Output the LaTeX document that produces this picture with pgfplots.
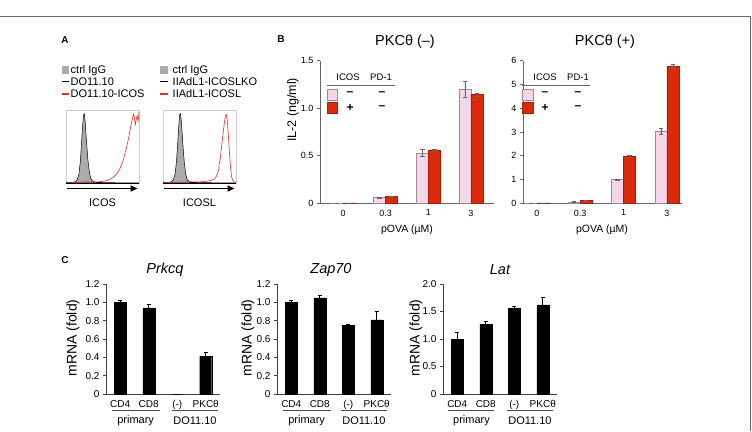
\documentclass[border=0pt]{standalone}
\usepackage{pgfplots}
\pgfplotsset{compat=1.18}
\usepackage{pgfplotstable}
\usepackage{fontspec}
\setmainfont{Liberation Sans}
\usetikzlibrary{arrows.meta}

\definecolor{pinkbar}{HTML}{F3D6EA}
\definecolor{pinkedge}{HTML}{9C8A9A}
\definecolor{redbar}{HTML}{DA2A0A}
\definecolor{rededge}{HTML}{A81E05}
\definecolor{axgray}{HTML}{666666}
\definecolor{histgray}{HTML}{ABABAB}
\definecolor{histred}{HTML}{E0302A}
\definecolor{boxgray}{HTML}{CCCCCC}

% IL-2 secretion, PKCtheta-negative cells
\pgfplotstableread{
x p pe r re
0 0.003 0 0.003 0
1 0.059 0.004 0.069 0.003
2 0.528 0.035 0.562 0.008
3 1.198 0.08 1.142 0.012
}\dataBl
% IL-2 secretion, PKCtheta-positive cells
\pgfplotstableread{
x p pe r re
0 0.01 0 0.01 0
1 0.05 0.01 0.11 0.01
2 0.99 0.02 1.98 0.05
3 3.04 0.12 5.77 0.07
}\dataBr
% relative mRNA
\pgfplotstableread{
x y e
0 1.00 0.02
1 0.94 0.035
2 0 0
3 0.41 0.04
}\dataPrkcq
\pgfplotstableread{
x y e
0 1.00 0.02
1 1.05 0.025
2 0.75 0.01
3 0.81 0.09
}\dataZap
\pgfplotstableread{
x y e
0 1.00 0.12
1 1.27 0.06
2 1.56 0.04
3 1.62 0.14
}\dataLat

\pgfplotsset{
  baseax/.style={
    scale only axis, anchor=south west,
    axis lines=left, axis line style={-, axgray, line width=0.7pt},
    tick align=outside, major tick length=3pt,
    ytick style={axgray, line width=0.6pt},
    xtick style={draw=none},
    tick label style={font=\fontsize{9}{10}\selectfont},
    ymin=0, clip=false,
  },
  bax/.style={baseax, width=#1, height=142.5pt, xtick={0,1,2,3}, xticklabels={0,0.3,1,3}},
  cax/.style={baseax, width=114pt, height=110pt, xmin=-0.5, xmax=3.5,
    xtick={0,1,2,3}, xticklabels={CD4,CD8,(-),PKCθ},
    tick label style={font=\fontsize{10}{11}\selectfont},
    axis line style={-, black!75, line width=0.7pt}, ytick style={black!75}},
  hax/.style={scale only axis, anchor=south west, width=73pt, height=73pt,
    xmin=0, xmax=100, ymin=0, ymax=100, ticks=none,
    axis line style={boxgray, line width=0.6pt}, clip=false},
  errb/.style n args={2}{error bars/.cd, y dir=#1, y explicit,
    error bar style={line width=0.6pt, #2},
    error mark options={rotate=90, #2, mark size=2.2pt, line width=0.6pt}, /pgfplots/.cd},
}

\begin{document}
\begin{tikzpicture}
\useasboundingbox (0,0) rectangle (752pt,431pt);
\draw[axgray, line width=0.8pt] (0,415pt) -- (750.5pt,415pt) -- (750.5pt,0);

% panel letters
\node[font=\bfseries\fontsize{10}{12}\selectfont] at (65pt,391pt) {A};
\node[font=\bfseries\fontsize{10}{12}\selectfont] at (281pt,392pt) {B};
\node[font=\bfseries\fontsize{10}{12}\selectfont] at (65pt,171pt) {C};

% ---------------- A: flow histograms ----------------
\begin{scope}[font=\fontsize{11}{12}\selectfont]
\fill[histgray] (61.7pt,357pt) rectangle (69pt,364.5pt);
\node[anchor=west, inner sep=0] at (70.5pt,360.5pt) {ctrl IgG};
\draw[black, line width=1.5pt] (61.7pt,349.3pt) -- (69pt,349.3pt);
\node[anchor=west, inner sep=0] at (70.5pt,349.3pt) {DO11.10};
\draw[histred, line width=1.5pt] (61.7pt,337pt) -- (69pt,337pt);
\node[anchor=west, inner sep=0] at (70.5pt,337pt) {DO11.10-ICOS};
\fill[histgray] (160pt,357pt) rectangle (167.5pt,364.5pt);
\node[anchor=west, inner sep=0] at (172.5pt,360.5pt) {ctrl IgG};
\draw[black, line width=1.5pt] (160pt,349.3pt) -- (167.5pt,349.3pt);
\node[anchor=west, inner sep=0] at (172.5pt,349.3pt) {IIAdL1-ICOSLKO};
\draw[histred, line width=1.5pt] (160pt,337pt) -- (167.5pt,337pt);
\node[anchor=west, inner sep=0] at (172.5pt,337pt) {IIAdL1-ICOSL};
\end{scope}

\begin{axis}[hax, at={(66pt,248pt)}]
\addplot[fill=histgray, draw=black, line width=0.5pt] coordinates {
(0,0.5) (8,0.6) (12,1.5) (15,4) (17.5,11) (19.5,28) (21,50) (22.5,75) (24,93) (25,95) (26.3,84) (28,58) (30,32) (32,15) (34,6) (36.5,2.5) (40,1.2) (50,0.6) (70,0.3) (100,0)} \closedcycle;
\addplot[histred, line width=0.6pt] coordinates {
(8,0.6) (20,1.2) (30,1.8) (40,1) (48,2) (55,3) (60,5) (65,8) (70,13) (74,20) (78,30) (82,45) (85,58) (87,68) (89,79) (91,88) (92.5,94) (93.5,91) (95,80) (96.5,89) (97.5,92) (98.7,84) (99.5,90) (100,97)};
\draw[black, line width=0.8pt] (rel axis cs:0,0) -- (rel axis cs:1,0);
\draw[-{Triangle[length=7pt,width=6pt]}, line width=1.7pt] ([yshift=-5.5pt]rel axis cs:0.01,0) -- ([yshift=-5.5pt]rel axis cs:0.98,0);
\node[font=\fontsize{11}{12}\selectfont] at ([yshift=-20pt]rel axis cs:0.5,0) {ICOS};
\end{axis}

\begin{axis}[hax, at={(163pt,248pt)}]
\addplot[fill=histgray, draw=black, line width=0.5pt] coordinates {
(0,0.5) (8,0.6) (11,1.5) (14,4) (16.5,12) (18.5,30) (20,52) (21.5,77) (23,94) (24,95) (25.3,83) (27,56) (29,30) (31,13) (33,5) (35.5,2) (40,1) (50,0.5) (70,0.3) (100,0)} \closedcycle;
\addplot[histred, line width=0.6pt] coordinates {
(8,0.6) (20,1) (35,1.5) (50,1.5) (60,2.5) (66,3.5) (70,5) (73,9) (75,14) (76.5,19) (77,26) (78.5,34) (80,48) (82,65) (84,82) (85.5,92) (86.7,94) (88,86) (89.5,66) (91,42) (92.5,21) (94,8) (96,2.5) (100,0.5)};
\draw[black, line width=0.8pt] (rel axis cs:0,0) -- (rel axis cs:1,0);
\draw[-{Triangle[length=7pt,width=6pt]}, line width=1.7pt] ([yshift=-5.5pt]rel axis cs:0.01,0) -- ([yshift=-5.5pt]rel axis cs:0.98,0);
\node[font=\fontsize{11}{12}\selectfont] at ([yshift=-20pt]rel axis cs:0.5,0) {ICOSL};
\end{axis}

% ---------------- B: IL-2 ----------------
\begin{axis}[bax=174pt, at={(320pt,227.8pt)}, xmin=-0.54, xmax=3.54, ymax=1.5,
  ytick={0,0.5,1,1.5}, yticklabels={0,0.5,1.0,1.5}]
\addplot[ybar, bar width=12pt, bar shift=0pt, fill=pinkbar, draw=pinkedge, line width=0.5pt, errb={both}{axgray}]
  table[x expr=\thisrow{x}-0.1407, y=p, y error=pe] {\dataBl};
\addplot[ybar, bar width=12pt, bar shift=0pt, fill=redbar, draw=rededge, line width=0.5pt, errb={both}{axgray}]
  table[x expr=\thisrow{x}+0.1407, y=r, y error=re] {\dataBl};
\end{axis}

\begin{axis}[bax=159pt, at={(523pt,227.8pt)}, xmin=-0.32, xmax=3.35, ymax=6,
  ytick={0,1,2,3,4,5,6}, yticklabels={0,1,2,3,4,5,6}]
\addplot[ybar, bar width=12pt, bar shift=0pt, fill=pinkbar, draw=pinkedge, line width=0.5pt, errb={both}{axgray}]
  table[x expr=\thisrow{x}-0.1385, y=p, y error=pe] {\dataBr};
\addplot[ybar, bar width=12pt, bar shift=0pt, fill=redbar, draw=rededge, line width=0.5pt, errb={both}{axgray}]
  table[x expr=\thisrow{x}+0.1385, y=r, y error=re] {\dataBr};
\end{axis}

\node[font=\fontsize{14.5}{16}\selectfont] at (405pt,389pt) {PKCθ (–)};
\node[font=\fontsize{14.5}{16}\selectfont] at (605pt,389pt) {PKCθ (+)};
\node[rotate=90, font=\fontsize{12.5}{14}\selectfont] at (293pt,321pt) {IL-2 (ng/ml)};
\node[font=\fontsize{10.5}{12}\selectfont] at (407pt,201pt) {pOVA (µM)};
\node[font=\fontsize{10.5}{12}\selectfont] at (602pt,201pt) {pOVA (µM)};

% key tables inside B
\begin{scope}[font=\fontsize{9.5}{11}\selectfont]
\node at (348pt,354pt) {ICOS};
\node at (381pt,354pt) {PD-1};
\draw[axgray, line width=0.7pt] (327pt,346pt) -- (395pt,346pt);
\filldraw[fill=pinkbar, draw=pinkedge] (327pt,331pt) rectangle (337.5pt,341.5pt);
\filldraw[fill=redbar, draw=rededge] (327pt,318pt) rectangle (337.5pt,328.5pt);
\node at (545pt,354pt) {ICOS};
\node at (578pt,354pt) {PD-1};
\draw[axgray, line width=0.7pt] (522pt,346pt) -- (590pt,346pt);
\filldraw[fill=pinkbar, draw=pinkedge] (522.5pt,331pt) rectangle (533pt,341.5pt);
\filldraw[fill=redbar, draw=rededge] (522.5pt,318pt) rectangle (533pt,328.5pt);
\end{scope}
\begin{scope}[font=\bfseries\fontsize{12}{13}\selectfont]
\node at (350pt,337pt) {–}; \node at (382pt,337pt) {–};
\node at (350pt,323.5pt) {+}; \node at (382pt,323.5pt) {–};
\node at (545pt,337pt) {–}; \node at (578pt,337pt) {–};
\node at (545pt,323.5pt) {+}; \node at (578pt,323.5pt) {–};
\end{scope}

% ---------------- C: mRNA ----------------
\begin{axis}[cax, at={(106pt,37pt)}, ymax=1.2, ytick={0,0.2,0.4,0.6,0.8,1.0,1.2},
  yticklabels={0,0.2,0.4,0.6,0.8,1.0,1.2}]
\addplot[ybar, bar width=12pt, fill=black, draw=black, errb={plus}{black}]
  table[x=x, y=y, y error=e] {\dataPrkcq};
\draw[black!70, line width=0.6pt] ([yshift=-16.7pt]axis cs:-0.3,0) -- ([yshift=-16.7pt]axis cs:1.38,0);
\draw[black!70, line width=0.6pt] ([yshift=-16.7pt]axis cs:1.82,0) -- ([yshift=-16.7pt]axis cs:3.42,0);
\node[font=\fontsize{11}{12}\selectfont] at ([yshift=-26.5pt]axis cs:0.54,0) {primary};
\node[font=\fontsize{11}{12}\selectfont] at ([yshift=-26.5pt]axis cs:2.62,0) {DO11.10};
\end{axis}

\begin{axis}[cax, at={(277pt,37pt)}, ymax=1.2, ytick={0,0.2,0.4,0.6,0.8,1.0,1.2},
  yticklabels={0,0.2,0.4,0.6,0.8,1.0,1.2}]
\addplot[ybar, bar width=12pt, fill=black, draw=black, errb={plus}{black}]
  table[x=x, y=y, y error=e] {\dataZap};
\draw[black!70, line width=0.6pt] ([yshift=-16.7pt]axis cs:-0.3,0) -- ([yshift=-16.7pt]axis cs:1.38,0);
\draw[black!70, line width=0.6pt] ([yshift=-16.7pt]axis cs:1.75,0) -- ([yshift=-16.7pt]axis cs:3.35,0);
\node[font=\fontsize{11}{12}\selectfont] at ([yshift=-26.5pt]axis cs:0.54,0) {primary};
\node[font=\fontsize{11}{12}\selectfont] at ([yshift=-26.5pt]axis cs:2.55,0) {DO11.10};
\end{axis}

\begin{axis}[cax, at={(443pt,37pt)}, ymax=2.0, ytick={0,0.5,1.0,1.5,2.0},
  yticklabels={0,0.5,1.0,1.5,2.0}]
\addplot[ybar, bar width=12pt, fill=black, draw=black, errb={plus}{black}]
  table[x=x, y=y, y error=e] {\dataLat};
\draw[black!70, line width=0.6pt] ([yshift=-16.7pt]axis cs:-0.32,0) -- ([yshift=-16.7pt]axis cs:1.3,0);
\draw[black!70, line width=0.6pt] ([yshift=-16.7pt]axis cs:1.75,0) -- ([yshift=-16.7pt]axis cs:3.35,0);
\node[font=\fontsize{11}{12}\selectfont] at ([yshift=-26.5pt]axis cs:0.5,0) {primary};
\node[font=\fontsize{11}{12}\selectfont] at ([yshift=-26.5pt]axis cs:2.55,0) {DO11.10};
\end{axis}

\node[font=\itshape\fontsize{14.5}{16}\selectfont] at (165pt,161pt) {Prkcq};
\node[font=\itshape\fontsize{14.5}{16}\selectfont] at (331pt,161pt) {Zap70};
\node[font=\itshape\fontsize{14.5}{16}\selectfont] at (500pt,161pt) {Lat};
\node[rotate=90, font=\fontsize{14}{15}\selectfont] at (73pt,93pt) {mRNA (fold)};
\node[rotate=90, font=\fontsize{14}{15}\selectfont] at (248pt,93pt) {mRNA (fold)};
\node[rotate=90, font=\fontsize{14}{15}\selectfont] at (416pt,93pt) {mRNA (fold)};
\end{tikzpicture}
\end{document}
